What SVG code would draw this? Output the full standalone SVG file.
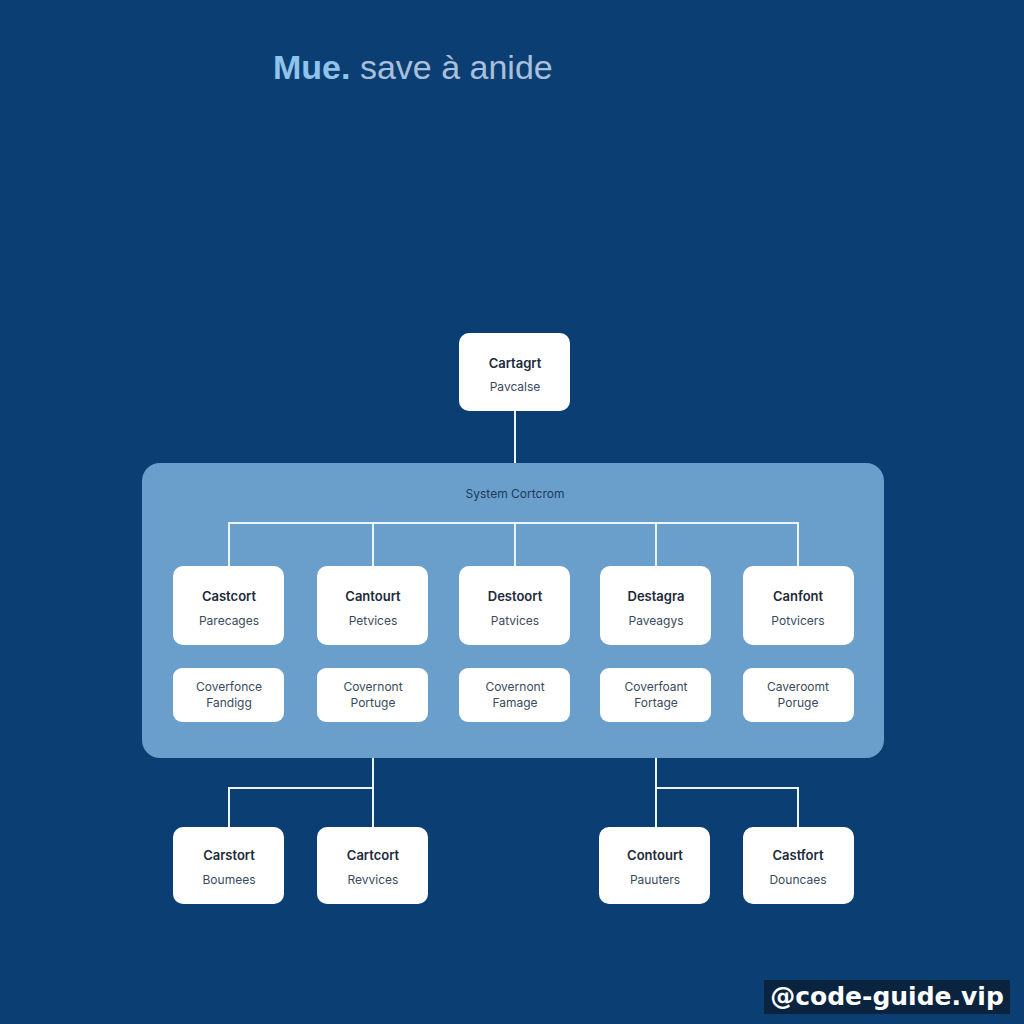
<svg xmlns="http://www.w3.org/2000/svg" width="1024" height="1024" viewBox="0 0 1024 1024">
<style>
.node rect{fill:#ffffff;}
.t1{font-family:"Inter","Liberation Sans",sans-serif;font-size:13px;font-weight:600;fill:#1c2a3a;text-anchor:middle;}
.t2{font-family:"Inter","Liberation Sans",sans-serif;font-size:12px;fill:#3a4a5c;text-anchor:middle;}
.conn{stroke:#eaf3fa;stroke-width:2;fill:none;}
</style>
<rect width="1024" height="1024" fill="#0b3e72"/>
<text x="273" y="79" font-family="'Liberation Sans', Arial, sans-serif" font-size="34"><tspan fill="#8ec3ec" font-weight="700">Mue.</tspan><tspan fill="#a9c0dc"> save à anide</tspan></text>
<g id="container"><rect x="142" y="463" width="742" height="295" rx="18" fill="#6a9fcc"/>
<text x="515" y="498" font-family="Inter, 'Liberation Sans', sans-serif" font-size="12" fill="#1d3a5c" text-anchor="middle">System Cortcrom</text></g>
<g id="connectors" class="conn">
<line x1="515" y1="411" x2="515" y2="463"/>
<polyline points="229,566 229,523 798,523 798,566"/>
<line x1="373" y1="523" x2="373" y2="566"/>
<line x1="515" y1="523" x2="515" y2="566"/>
<line x1="656" y1="523" x2="656" y2="566"/>
<polyline points="229,827 229,788 373,788"/>
<line x1="373" y1="758" x2="373" y2="827"/>
<polyline points="798,827 798,788 656,788"/>
<line x1="656" y1="758" x2="656" y2="827"/>
</g>
<g id="n-top" class="node"><rect x="459" y="333" width="111" height="78" rx="10"/><text class="t1" x="515" y="368">Cartagrt</text><text class="t2" x="515" y="391">Pavcalse</text></g>
<g id="n1" class="node"><rect x="173" y="566" width="111" height="79" rx="10"/><text class="t1" x="229" y="601">Castcort</text><text class="t2" x="229" y="625">Parecages</text></g>
<g id="n2" class="node"><rect x="317" y="566" width="111" height="79" rx="10"/><text class="t1" x="373" y="601">Cantourt</text><text class="t2" x="373" y="625">Petvices</text></g>
<g id="n3" class="node"><rect x="459" y="566" width="111" height="79" rx="10"/><text class="t1" x="515" y="601">Destoort</text><text class="t2" x="515" y="625">Patvices</text></g>
<g id="n4" class="node"><rect x="600" y="566" width="111" height="79" rx="10"/><text class="t1" x="656" y="601">Destagra</text><text class="t2" x="656" y="625">Paveagys</text></g>
<g id="n5" class="node"><rect x="743" y="566" width="111" height="79" rx="10"/><text class="t1" x="798" y="601">Canfont</text><text class="t2" x="798" y="625">Potvicers</text></g>
<g id="s1" class="node"><rect x="173" y="668" width="111" height="54" rx="9"/><text class="t2" x="229" y="691">Coverfonce</text><text class="t2" x="229" y="707">Fandigg</text></g>
<g id="s2" class="node"><rect x="317" y="668" width="111" height="54" rx="9"/><text class="t2" x="373" y="691">Covernont</text><text class="t2" x="373" y="707">Portuge</text></g>
<g id="s3" class="node"><rect x="459" y="668" width="111" height="54" rx="9"/><text class="t2" x="515" y="691">Covernont</text><text class="t2" x="515" y="707">Famage</text></g>
<g id="s4" class="node"><rect x="600" y="668" width="111" height="54" rx="9"/><text class="t2" x="656" y="691">Coverfoant</text><text class="t2" x="656" y="707">Fortage</text></g>
<g id="s5" class="node"><rect x="743" y="668" width="111" height="54" rx="9"/><text class="t2" x="798" y="691">Caveroomt</text><text class="t2" x="798" y="707">Poruge</text></g>
<g id="b1" class="node"><rect x="173" y="827" width="111" height="77" rx="10"/><text class="t1" x="229" y="860">Carstort</text><text class="t2" x="229" y="884">Boumees</text></g>
<g id="b2" class="node"><rect x="317" y="827" width="111" height="77" rx="10"/><text class="t1" x="373" y="860">Cartcort</text><text class="t2" x="373" y="884">Revvices</text></g>
<g id="b3" class="node"><rect x="599" y="827" width="111" height="77" rx="10"/><text class="t1" x="655" y="860">Contourt</text><text class="t2" x="655" y="884">Pauuters</text></g>
<g id="b4" class="node"><rect x="743" y="827" width="111" height="77" rx="10"/><text class="t1" x="798" y="860">Castfort</text><text class="t2" x="798" y="884">Douncaes</text></g>
<g id="watermark"><rect x="764" y="980" width="246" height="34" fill="#0a2440"/><text x="887" y="1005" font-family="'DejaVu Sans', sans-serif" font-weight="700" font-size="25" fill="#ffffff" text-anchor="middle">@code-guide.vip</text></g>
</svg>
